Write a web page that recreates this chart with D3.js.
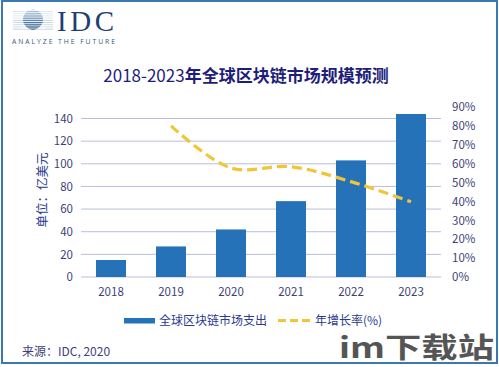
<!DOCTYPE html>
<html><head><meta charset="utf-8">
<script src="https://cdn.jsdelivr.net/npm/d3@7"></script>
<style>body{margin:0;background:#fff}svg{display:block}</style>
</head><body>
<svg id="c" width="499" height="367"></svg>
<script>
const years = ["2018","2019","2020","2021","2022","2023"];
const spending = [15, 27, 42, 67, 103, 144];
const growthYears = ["2019","2020","2021","2022","2023"];
const growth = [80, 57.7, 58.4, 50.5, 39.8];
const leftTicks = [0,20,40,60,80,100,120,140];
const rightTicks = [0,10,20,30,40,50,60,70,80,90];

const svg = d3.select("#c");
const font = "'Noto Sans CJK SC','Open Sans',sans-serif";
const axisColor = "#3d3f78";

// border
svg.append("rect").attr("x",2).attr("y",1).attr("width",495).attr("height",362)
  .attr("fill","#fff").attr("stroke","#3b78b0").attr("stroke-width",2);

// logo
const logo = svg.append("g");
const defs = svg.append("defs");
const grad = defs.append("linearGradient").attr("id","gl").attr("x1",0).attr("y1",0).attr("x2",0).attr("y2",1);
grad.append("stop").attr("offset","0%").attr("stop-color","#b9d0e8");
grad.append("stop").attr("offset","100%").attr("stop-color","#1d4f80");
logo.append("circle").attr("cx",33).attr("cy",19.5).attr("r",10).attr("fill","url(#gl)");
const stripeYs = d3.range(10.5, 30, 2.2);
stripeYs.forEach((y,i)=>{
  logo.append("line").attr("x1",13).attr("x2",53).attr("y1",y).attr("y2",y)
    .attr("stroke","#fff").attr("stroke-width",0.9);
  logo.append("line").attr("x1",13).attr("x2",53).attr("y1",y+1.1).attr("y2",y+1.1)
    .attr("stroke", i<4 ? "#9dbbd9" : "#5f86b0").attr("stroke-width",0.6).attr("opacity",0.6);
});
logo.append("circle").attr("cx",33).attr("cy",19.5).attr("r",10).attr("fill","url(#gl)").attr("opacity",0.85);
stripeYs.forEach(y=>{
  logo.append("line").attr("x1",21).attr("x2",45).attr("y1",y).attr("y2",y)
    .attr("stroke","#fff").attr("stroke-width",0.8);
});
logo.append("text").attr("x",57).attr("y",31).text("IDC")
  .attr("font-family","'Liberation Serif','DejaVu Serif',serif").attr("font-size",29)
  .attr("fill","#1f3e72").attr("textLength",57);
logo.append("text").attr("x",12).attr("y",43.5).text("ANALYZE THE FUTURE")
  .attr("font-family","'Open Sans',sans-serif").attr("font-size",6.8).attr("fill","#36587e")
  .attr("textLength",103).attr("lengthAdjust","spacing");

// title
const title = svg.append("text").attr("x",246).attr("y",82).attr("text-anchor","middle")
  .attr("font-family",font).attr("font-size",17).attr("fill","#1e1e7a");
title.append("tspan").text("2018-2023");
title.append("tspan").attr("font-weight","bold").text("年全球区块链市场规模预测");

// scales
const x = d3.scaleBand().domain(years).range([81,441]).paddingInner(0.5).paddingOuter(0.25);
const yL = d3.scaleLinear().domain([0,140]).range([277,118.5]);
const yR = d3.scaleLinear().domain([0,90]).range([277,107]);

// gridlines
svg.append("g").selectAll("line").data(leftTicks).join("line")
  .attr("x1",81).attr("x2",441).attr("y1",d=>yL(d)).attr("y2",d=>yL(d))
  .attr("stroke","#b9bedc").attr("stroke-width",1);

// left axis labels
const gL = svg.append("g").attr("transform","translate(81,0)")
  .call(d3.axisLeft(yL).tickValues(leftTicks).tickSize(0).tickPadding(8));
gL.select(".domain").remove();
gL.selectAll("text").attr("font-family",font).attr("font-size",11.5).attr("fill",axisColor);

// right axis labels
const gR = svg.append("g").attr("transform","translate(450,0)")
  .call(d3.axisRight(yR).tickValues(rightTicks).tickSize(0).tickPadding(2).tickFormat(d=>d+"%"));
gR.select(".domain").remove();
gR.selectAll("text").attr("font-family",font).attr("font-size",11.5).attr("fill",axisColor);

// x axis labels
const gX = svg.append("g").attr("transform","translate(0,277)")
  .call(d3.axisBottom(x).tickSize(0).tickPadding(11));
gX.select(".domain").remove();
gX.selectAll("text").attr("font-family",font).attr("font-size",11.5).attr("fill",axisColor);

// y title
svg.append("text").attr("transform","translate(47,190) rotate(-90)").attr("text-anchor","middle")
  .attr("font-family",font).attr("font-size",12.5).attr("fill","#2a3a8f").text("单位：亿美元");

// bars
svg.append("g").selectAll("rect").data(spending).join("rect")
  .attr("x",(d,i)=>x(years[i])).attr("width",x.bandwidth())
  .attr("y",d=>yL(d)).attr("height",d=>yL(0)-yL(d)).attr("fill","#2672b8");

// line
const line = d3.line().x((d,i)=>x(growthYears[i])+x.bandwidth()/2).y(d=>yR(d))
  .curve(d3.curveCatmullRom.alpha(0.5));
svg.append("path").datum(growth).attr("d",line).attr("fill","none")
  .attr("stroke","#f2c537").attr("stroke-width",3.2).attr("stroke-dasharray","10,5");

// legend
svg.append("rect").attr("x",124).attr("y",318).attr("width",31).attr("height",5.5).attr("fill","#2672b8");
svg.append("text").attr("x",159).attr("y",325).attr("font-family",font).attr("font-size",12)
  .attr("fill","#2a3a8f").text("全球区块链市场支出");
svg.append("line").attr("x1",278).attr("x2",311).attr("y1",320.5).attr("y2",320.5)
  .attr("stroke","#f2c537").attr("stroke-width",3).attr("stroke-dasharray","8,4");
svg.append("text").attr("x",315).attr("y",325).attr("font-family",font).attr("font-size",12)
  .attr("fill","#2a3a8f").text("年增长率(%)");

// source
svg.append("text").attr("x",22).attr("y",356).attr("font-family",font).attr("font-size",12)
  .attr("fill",axisColor).text("来源：IDC, 2020");

// watermark
svg.append("text").attr("x",339).attr("y",358).attr("font-family",font).attr("font-size",28)
  .attr("font-weight","bold").attr("fill","#555").attr("textLength",155)
  .attr("lengthAdjust","spacingAndGlyphs").text("im下载站");
</script>
</body></html>
